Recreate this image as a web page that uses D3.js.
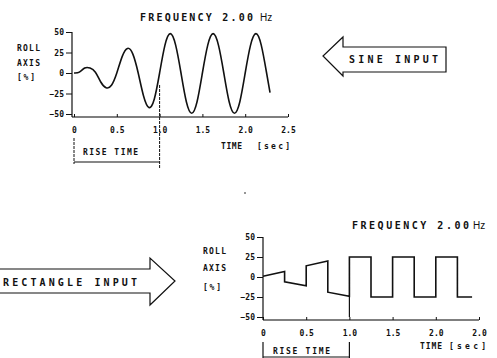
<!DOCTYPE html>
<html>
<head>
<meta charset="utf-8">
<script src="https://cdn.jsdelivr.net/npm/d3@7"></script>
<style>
  body { margin: 0; background: #fff; }
  svg text { font-family: "DejaVu Sans Mono", monospace; font-weight: bold; fill: #111; }
</style>
</head>
<body>
<script>
// roll axis response to sine / rectangle input, 2.00 Hz

// sine input response
var sineTime = [0, 0.0625, 0.125, 0.1875, 0.25, 0.3125, 0.375, 0.4375, 0.5, 0.5625, 0.625, 0.6875, 0.75,
                0.8125, 0.875, 0.9375, 1.0, 1.0625, 1.125, 1.1875, 1.25, 1.3125, 1.375, 1.4375, 1.5,
                1.5625, 1.625, 1.6875, 1.75, 1.8125, 1.875, 1.9375, 2.0, 2.0625, 2.125, 2.1875, 2.25, 2.29];
var sineRoll = [0, 1, 6, 6, 1, -11, -18, -15, 0, 20, 30, 23, 0,
                -28, -42, -32, 0, 34, 48, 34, 0, -35, -49, -35, 0,
                34, 48, 34, 0, -35, -49, -35, 0, 34, 48, 34, 0, -24];

// rectangle input response
var rectTime = [0, 0.25, 0.25, 0.5, 0.5, 0.75, 0.75, 1.0, 1.0, 1.25, 1.25, 1.5, 1.5, 1.75, 1.75, 2.0, 2.0, 2.25, 2.25, 2.42];
var rectRoll = [1, 7, -6, -11, 14, 20, -19, -24, 25, 25, -25, -25, 25, 25, -25, -25, 25, 25, -25, -25];

// axes
var timeTicks = [0, 0.5, 1.0, 1.5, 2.0, 2.5];
var topTimeLabels = ["0", "0.5", "1.0", "1.5", "2.0", "2.5"];
var bottomTimeLabels = ["0", "0.5", "1.0", "1.5", "2.0", "2.0"];
var rollTicks = [50, 25, 0, -25, -50];
var riseTime = 1.0;

var width = 497, height = 358;

var svg = d3.select("body").append("svg")
    .attr("width", width)
    .attr("height", height);

// little helper for spaced-out plotter text
function label(x, y, txt, size, len){
    var t = svg.append("text")
        .attr("x", x)
        .attr("y", y)
        .style("font-size", size + "px")
        .text(txt);
    if (len) t.attr("textLength", len).attr("lengthAdjust", "spacing");
    return t;
}

// "Hz" is written in a plainer hand than the rest of the title
function hz(x, y){
    svg.append("text")
        .attr("x", x)
        .attr("y", y)
        .style("font-family", "Liberation Sans, Arial, sans-serif")
        .style("font-weight", "normal")
        .style("font-size", "10px")
        .text("Hz");
}

function drawPanel(p){
    var x = d3.scaleLinear().domain([0, 2.5]).range([p.x0, p.x1]);
    var y = d3.scaleLinear().domain([-50, 50]).range([p.y0, p.y1]);

    // y axis
    var yAxis = svg.append("g")
        .attr("transform", "translate(" + p.yAxisX + ",0)")
        .call(d3.axisLeft(y).tickValues(rollTicks).tickSize(6).tickSizeOuter(0).tickPadding(2));
    yAxis.select(".domain").remove();
    svg.append("line")
        .attr("x1", p.yAxisX).attr("x2", p.yAxisX)
        .attr("y1", y(50)).attr("y2", p.xAxisY)
        .attr("stroke", "#111").attr("stroke-width", 1.2);

    // x axis
    var xAxis = svg.append("g")
        .attr("transform", "translate(0," + p.xAxisY + ")")
        .call(d3.axisBottom(x).tickValues(timeTicks)
            .tickFormat(function(d, i){ return p.labels[i]; })
            .tickSizeInner(-3).tickSizeOuter(0).tickPadding(10));
    xAxis.select(".domain")
        .attr("d", "M" + p.yAxisX + ",0H" + p.x1)
        .attr("stroke-width", 1.2);

    svg.selectAll(".tick line").attr("stroke", "#111");
    svg.selectAll(".tick text")
        .style("font-size", "8px")
        .style("font-family", "DejaVu Sans Mono, monospace")
        .style("font-weight", "bold");

    // response curve
    var pts = p.time.map(function(t, i){ return [t, p.roll[i]]; });
    var line = d3.line()
        .x(function(d){ return x(d[0]); })
        .y(function(d){ return y(d[1]); })
        .curve(p.curve);
    svg.append("path")
        .datum(pts)
        .attr("d", line)
        .attr("fill", "none")
        .attr("stroke", "#111")
        .attr("stroke-width", 1.6);

    return {x: x, y: y};
}

// ---------- upper panel: sine ----------
var upper = drawPanel({
    x0: 74, x1: 288, y0: 114, y1: 32, yAxisX: 72, xAxisY: 117,
    time: sineTime, roll: sineRoll, labels: topTimeLabels, curve: d3.curveNatural
});

label(140, 21, "FREQUENCY 2.00", 10, 113);
hz(260, 21);
label(17, 51, "ROLL", 8, 23);
label(17, 66, "AXIS", 8, 23);
label(17, 80, "[%]", 8, 18);
label(221, 149, "TIME", 8, 21);
label(257, 149, "[sec]", 8, 33);

// rise time bracket, upper
svg.append("line")
    .attr("x1", upper.x(riseTime)).attr("x2", upper.x(riseTime))
    .attr("y1", 85).attr("y2", 168)
    .attr("stroke", "#111").attr("stroke-width", 1).attr("stroke-dasharray", "3,1");
svg.append("line")
    .attr("x1", upper.x(0)).attr("x2", upper.x(0))
    .attr("y1", 138).attr("y2", 164)
    .attr("stroke", "#111").attr("stroke-width", 1).attr("stroke-dasharray", "3,1");
svg.append("line")
    .attr("x1", upper.x(0)).attr("x2", upper.x(riseTime))
    .attr("y1", 162).attr("y2", 162)
    .attr("stroke", "#111").attr("stroke-width", 1.2);
label(83, 155, "RISE TIME", 8, 55);

// sine input arrow (pointing left)
svg.append("path")
    .attr("d", "M446,47 L343,47 L343,37 L323,56 L343,76 L343,72 L446,72 Z")
    .attr("fill", "none")
    .attr("stroke", "#111")
    .attr("stroke-width", 1.2);
label(349, 63, "SINE INPUT", 10, 89);

// ---------- lower panel: rectangle ----------
var lower = drawPanel({
    x0: 263, x1: 479, y0: 317, y1: 237, yAxisX: 263, xAxisY: 320,
    time: rectTime, roll: rectRoll, labels: bottomTimeLabels, curve: d3.curveLinear
});

label(352, 229, "FREQUENCY 2.00", 10, 117);
hz(473, 229);
label(203, 254, "ROLL", 8, 23);
label(203, 271, "AXIS", 8, 23);
label(203, 290, "[%]", 8, 18);
label(420, 349, "TIME", 8, 22);
label(449, 349, "[sec]", 8, 37);

// rise time marker, lower
svg.append("line")
    .attr("x1", lower.x(riseTime)).attr("x2", lower.x(riseTime))
    .attr("y1", lower.y(-50)).attr("y2", lower.y(-24))
    .attr("stroke", "#111").attr("stroke-width", 1.2);
[0, riseTime].forEach(function(t){
    svg.append("line")
        .attr("x1", lower.x(t)).attr("x2", lower.x(t))
        .attr("y1", 342).attr("y2", 358)
        .attr("stroke", "#111").attr("stroke-width", 1.2);
});
svg.append("line")
    .attr("x1", lower.x(0)).attr("x2", lower.x(riseTime))
    .attr("y1", 357).attr("y2", 357)
    .attr("stroke", "#111").attr("stroke-width", 1.2);
label(273, 354, "RISE TIME", 8, 57);

// rectangle input arrow (pointing right, runs off the left edge)
svg.append("path")
    .attr("d", "M0,269 L150,269 L150,258 L175,281 L150,305 L150,293 L0,293")
    .attr("fill", "none")
    .attr("stroke", "#111")
    .attr("stroke-width", 1.2);
label(3, 286, "RECTANGLE INPUT", 10, 134);

// stray plotter dot
svg.append("circle").attr("cx", 245).attr("cy", 193).attr("r", 0.8).attr("fill", "#111");
</script>
</body>
</html>
